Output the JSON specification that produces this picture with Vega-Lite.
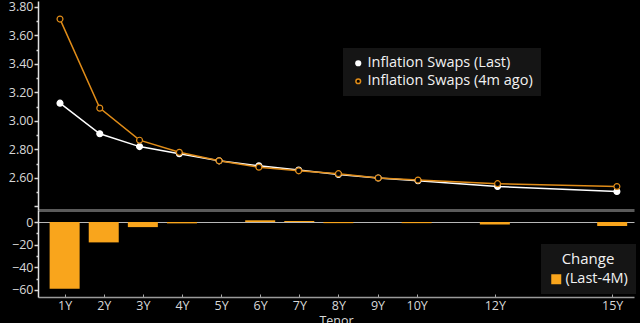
{
  "$schema": "https://vega.github.io/schema/vega-lite/v6.json",
  "background": "#000000",
  "padding": {"left": 4, "top": 0, "right": 6, "bottom": 0},
  "spacing": 0,
  "bounds": "flush",
  "resolve": {"legend": {"color": "independent", "stroke": "independent", "fill": "independent"}},
  "config": {
    "view": {"stroke": null},
    "font": "Open Sans",
    "axis": {"labelColor": "#d8d8d8", "labelFontSize": 12.5, "labelFont": "Open Sans", "grid": false, "titleColor": "#d8d8d8", "titleFont": "Open Sans", "titleFontSize": 12.5, "titleFontWeight": "normal", "labelOverlap": false},
    "legend": {"labelColor": "#f2f2f2", "labelFont": "Open Sans", "titleFont": "Open Sans", "titleColor": "#f2f2f2"}
  },
  "datasets": {
    "curve": [
      {"tenor": 1, "series": "Inflation Swaps (Last)", "rate": 3.125},
      {"tenor": 2, "series": "Inflation Swaps (Last)", "rate": 2.91},
      {"tenor": 3, "series": "Inflation Swaps (Last)", "rate": 2.82},
      {"tenor": 4, "series": "Inflation Swaps (Last)", "rate": 2.77},
      {"tenor": 5, "series": "Inflation Swaps (Last)", "rate": 2.72},
      {"tenor": 6, "series": "Inflation Swaps (Last)", "rate": 2.685},
      {"tenor": 7, "series": "Inflation Swaps (Last)", "rate": 2.655},
      {"tenor": 8, "series": "Inflation Swaps (Last)", "rate": 2.625},
      {"tenor": 9, "series": "Inflation Swaps (Last)", "rate": 2.60},
      {"tenor": 10, "series": "Inflation Swaps (Last)", "rate": 2.58},
      {"tenor": 12, "series": "Inflation Swaps (Last)", "rate": 2.54},
      {"tenor": 15, "series": "Inflation Swaps (Last)", "rate": 2.505},
      {"tenor": 1, "series": "Inflation Swaps (4m ago)", "rate": 3.715},
      {"tenor": 2, "series": "Inflation Swaps (4m ago)", "rate": 3.09},
      {"tenor": 3, "series": "Inflation Swaps (4m ago)", "rate": 2.865},
      {"tenor": 4, "series": "Inflation Swaps (4m ago)", "rate": 2.78},
      {"tenor": 5, "series": "Inflation Swaps (4m ago)", "rate": 2.72},
      {"tenor": 6, "series": "Inflation Swaps (4m ago)", "rate": 2.675},
      {"tenor": 7, "series": "Inflation Swaps (4m ago)", "rate": 2.65},
      {"tenor": 8, "series": "Inflation Swaps (4m ago)", "rate": 2.63},
      {"tenor": 9, "series": "Inflation Swaps (4m ago)", "rate": 2.60},
      {"tenor": 10, "series": "Inflation Swaps (4m ago)", "rate": 2.585},
      {"tenor": 12, "series": "Inflation Swaps (4m ago)", "rate": 2.56},
      {"tenor": 15, "series": "Inflation Swaps (4m ago)", "rate": 2.54}
    ],
    "change": [
      {"tenor": 1, "chg": -59, "label": "(Last-4M)"},
      {"tenor": 2, "chg": -18, "label": "(Last-4M)"},
      {"tenor": 3, "chg": -4.5, "label": "(Last-4M)"},
      {"tenor": 4, "chg": -1.2, "label": "(Last-4M)"},
      {"tenor": 5, "chg": 0, "label": "(Last-4M)"},
      {"tenor": 6, "chg": 1.5, "label": "(Last-4M)"},
      {"tenor": 7, "chg": 1, "label": "(Last-4M)"},
      {"tenor": 8, "chg": -1, "label": "(Last-4M)"},
      {"tenor": 9, "chg": 0, "label": "(Last-4M)"},
      {"tenor": 10, "chg": -1, "label": "(Last-4M)"},
      {"tenor": 12, "chg": -2.2, "label": "(Last-4M)"},
      {"tenor": 15, "chg": -3.5, "label": "(Last-4M)"}
    ]
  },
  "vconcat": [
    {
      "width": 596,
      "height": 209,
      "data": {"name": "curve"},
      "encoding": {
        "x": {"field": "tenor", "type": "quantitative", "scale": {"domain": [0.447, 15.43], "nice": false, "zero": false},
          "axis": {"labels": false, "ticks": false, "title": null, "domainColor": "#5a5a5a", "domainWidth": 3, "minExtent": 0, "maxExtent": 0}},
        "y": {"field": "rate", "type": "quantitative", "scale": {"domain": [2.375, 3.842], "nice": false, "zero": false},
          "axis": {"title": null, "values": [2.4, 2.5, 2.6, 2.7, 2.8, 2.9, 3.0, 3.1, 3.2, 3.3, 3.4, 3.5, 3.6, 3.7, 3.8], "labelExpr": "round(datum.value*10)%2==0 && datum.value > 2.5 ? format(datum.value, '.2f') : ''", "labelOverlap": false,
            "tickSize": {"condition": {"test": "round(datum.value*10)%2==0", "value": 4}, "value": 2}, "tickColor": "#d8d8d8", "tickWidth": 1.5, "labelPadding": 1, "domainColor": "#e0e0e0", "domainWidth": 1.5, "minExtent": 34, "maxExtent": 34}},
        "stroke": {"field": "series", "type": "nominal", "scale": {"domain": ["Inflation Swaps (Last)", "Inflation Swaps (4m ago)"], "range": ["#ffffff", "#e08c18"]},
          "legend": {"title": null, "orient": "none", "legendX": 305, "legendY": 47, "fillColor": "#151515", "padding": 8, "labelFontSize": 14.5, "symbolSize": 22, "symbolType": "circle", "rowPadding": 3, "labelOffset": 2, "labelLimit": 300}}
      },
      "layer": [
        {
          "mark": {"type": "line", "strokeWidth": 1.5},
          "encoding": {
            "order": {"field": "tenor"}
          }
        },
        {
          "mark": {"type": "point", "size": 35, "strokeWidth": 1.2, "opacity": 1},
          "encoding": {
            "fill": {"field": "series", "type": "nominal", "scale": {"domain": ["Inflation Swaps (Last)", "Inflation Swaps (4m ago)"], "range": ["#ffffff", "#000000"]},
              "legend": {"title": null, "orient": "none", "legendX": 305, "legendY": 47, "fillColor": "#151515", "padding": 8, "labelFontSize": 14.5, "symbolSize": 22, "symbolType": "circle", "rowPadding": 3, "labelOffset": 2, "labelLimit": 300}}
          }
        }
      ]
    },
    {
      "width": 596,
      "height": 87,
      "data": {"name": "change"},
      "mark": {"type": "bar", "size": 30},
      "encoding": {
        "x": {"field": "tenor", "type": "quantitative", "scale": {"domain": [0.447, 15.43], "nice": false, "zero": false},
          "axis": {"values": [1, 2, 3, 4, 5, 6, 7, 8, 9, 10, 12, 15], "labelExpr": "datum.value + 'Y'", "title": "Tenor", "titlePadding": 3, "tickSize": -3, "tickColor": "#aaaaaa", "domainColor": "#9a9a9a", "domainWidth": 1.5, "labelPadding": 5}},
        "y": {"field": "chg", "type": "quantitative", "scale": {"domain": [-66.2, 10.6], "nice": false, "zero": false},
          "axis": {"title": null, "values": [-60, -50, -40, -30, -20, -10, 0], "labelExpr": "datum.value == -60 || datum.value == -40 || datum.value == -20 || datum.value == 0 ? datum.label : ''", "labelOverlap": false, "labelBound": false, "labelFlush": false,
            "grid": true, "gridColor": "#b8b8b8", "gridWidth": 1, "gridOpacity": {"condition": {"test": "datum.value == 0", "value": 1}, "value": 0},
            "tickSize": {"condition": {"test": "datum.value == -60 || datum.value == -40 || datum.value == -20 || datum.value == 0", "value": 4}, "value": 2}, "tickColor": "#d8d8d8", "tickWidth": 1.5, "labelPadding": 1, "domainColor": "#e0e0e0", "domainWidth": 1.5, "minExtent": 34, "maxExtent": 34}},
        "y2": {"datum": 0},
        "color": {"field": "label", "type": "nominal", "scale": {"range": ["#f9a51c"]},
          "legend": {"title": "Change", "orient": "none", "legendX": 503, "legendY": 34, "fillColor": "#151515", "padding": 8, "titleFontSize": 15, "titleFontWeight": "normal", "titleAlign": "center", "titleAnchor": "middle", "labelFontSize": 14.5, "symbolType": "square", "symbolSize": 100, "symbolStrokeWidth": 0, "labelOffset": 2}}
      }
    }
  ]
}
